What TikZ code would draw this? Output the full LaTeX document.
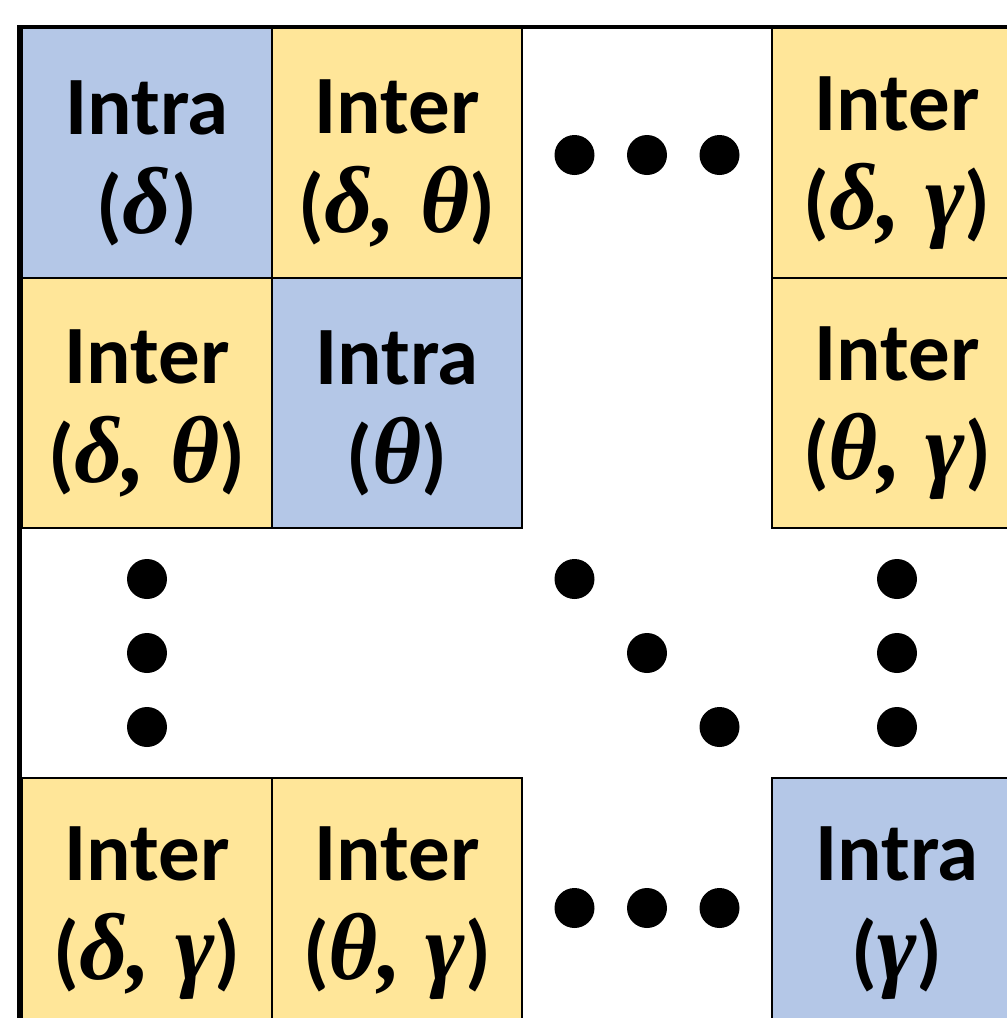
\documentclass[tikz,border=0pt]{standalone}
\usepackage{fontspec}
\setmainfont{Carlito}
\newfontfamily\greekfont{Liberation Serif}
\usetikzlibrary{positioning,calc}

\definecolor{intrablue}{RGB}{180,199,231}
\definecolor{interyellow}{RGB}{255,230,153}

% greek symbols, bold italic serif
\newcommand{\gk}[1]{{\greekfont\bfseries\itshape\fontsize{27}{28.2}\selectfont #1}}
% two lines of a block: kind, then the variables
\newcommand{\blk}[2]{\rule{0pt}{0.75cm}#1\\(\gk{#2})}

\tikzset{
	cell/.style={draw, line width=0.7pt, minimum size=2.5cm, inner sep=0pt, outer sep=0pt,
		align=center, font=\fontsize{23.6}{28.2}\selectfont\bfseries},
	intra/.style={cell, fill=intrablue},
	inter/.style={cell, fill=interyellow},
	dot/.style={fill=black}
}

\begin{document}
\begin{tikzpicture}[node distance=0pt]
\useasboundingbox (0,0) rectangle (10.06,-10.18);
% first row
\node [intra] (dd) at (1.47,-1.53) {\blk{Intra}{δ}};
\node [inter, right=of dd] (dt) {\blk{Inter}{δ, θ}};
\node [inter, right=2.5cm of dt] (dg) {\blk{Inter}{δ, γ}};
% second row
\node [inter, below=of dd] (td) {\blk{Inter}{δ, θ}};
\node [intra, right=of td] (tt) {\blk{Intra}{θ}};
\node [inter, below=of dg] (tg) {\blk{Inter}{θ, γ}};
% last row
\node [inter, below=2.5cm of td] (gd) {\blk{Inter}{δ, γ}};
\node [inter, right=of gd] (gt) {\blk{Inter}{θ, γ}};
\node [intra, right=2.5cm of gt] (gg) {\blk{Intra}{γ}};

% dots
\foreach \i in {-1,0,1} {
	\fill [dot] ($(dt.east)!0.5!(dg.west)$) ++(0.725*\i,-0.02) circle (0.2);
	\fill [dot] ($(gt.east)!0.5!(gg.west)$) ++(0.725*\i,-0.05) circle (0.2);
	\fill [dot] ($(td.south)!0.5!(gd.north)$) ++(0,0.74*\i) circle (0.2);
	\fill [dot] ($(tg.south)!0.5!(gg.north)$) ++(0,0.74*\i) circle (0.2);
	\fill [dot] ($(tt.south east)!0.5!(gg.north west)$) ++(0.725*\i,-0.74*\i) circle (0.2);
}

% outer frame
\draw [line width=1.4pt] (0.195,-0.27) rectangle (10.4,-10.5);
\end{tikzpicture}
\end{document}
